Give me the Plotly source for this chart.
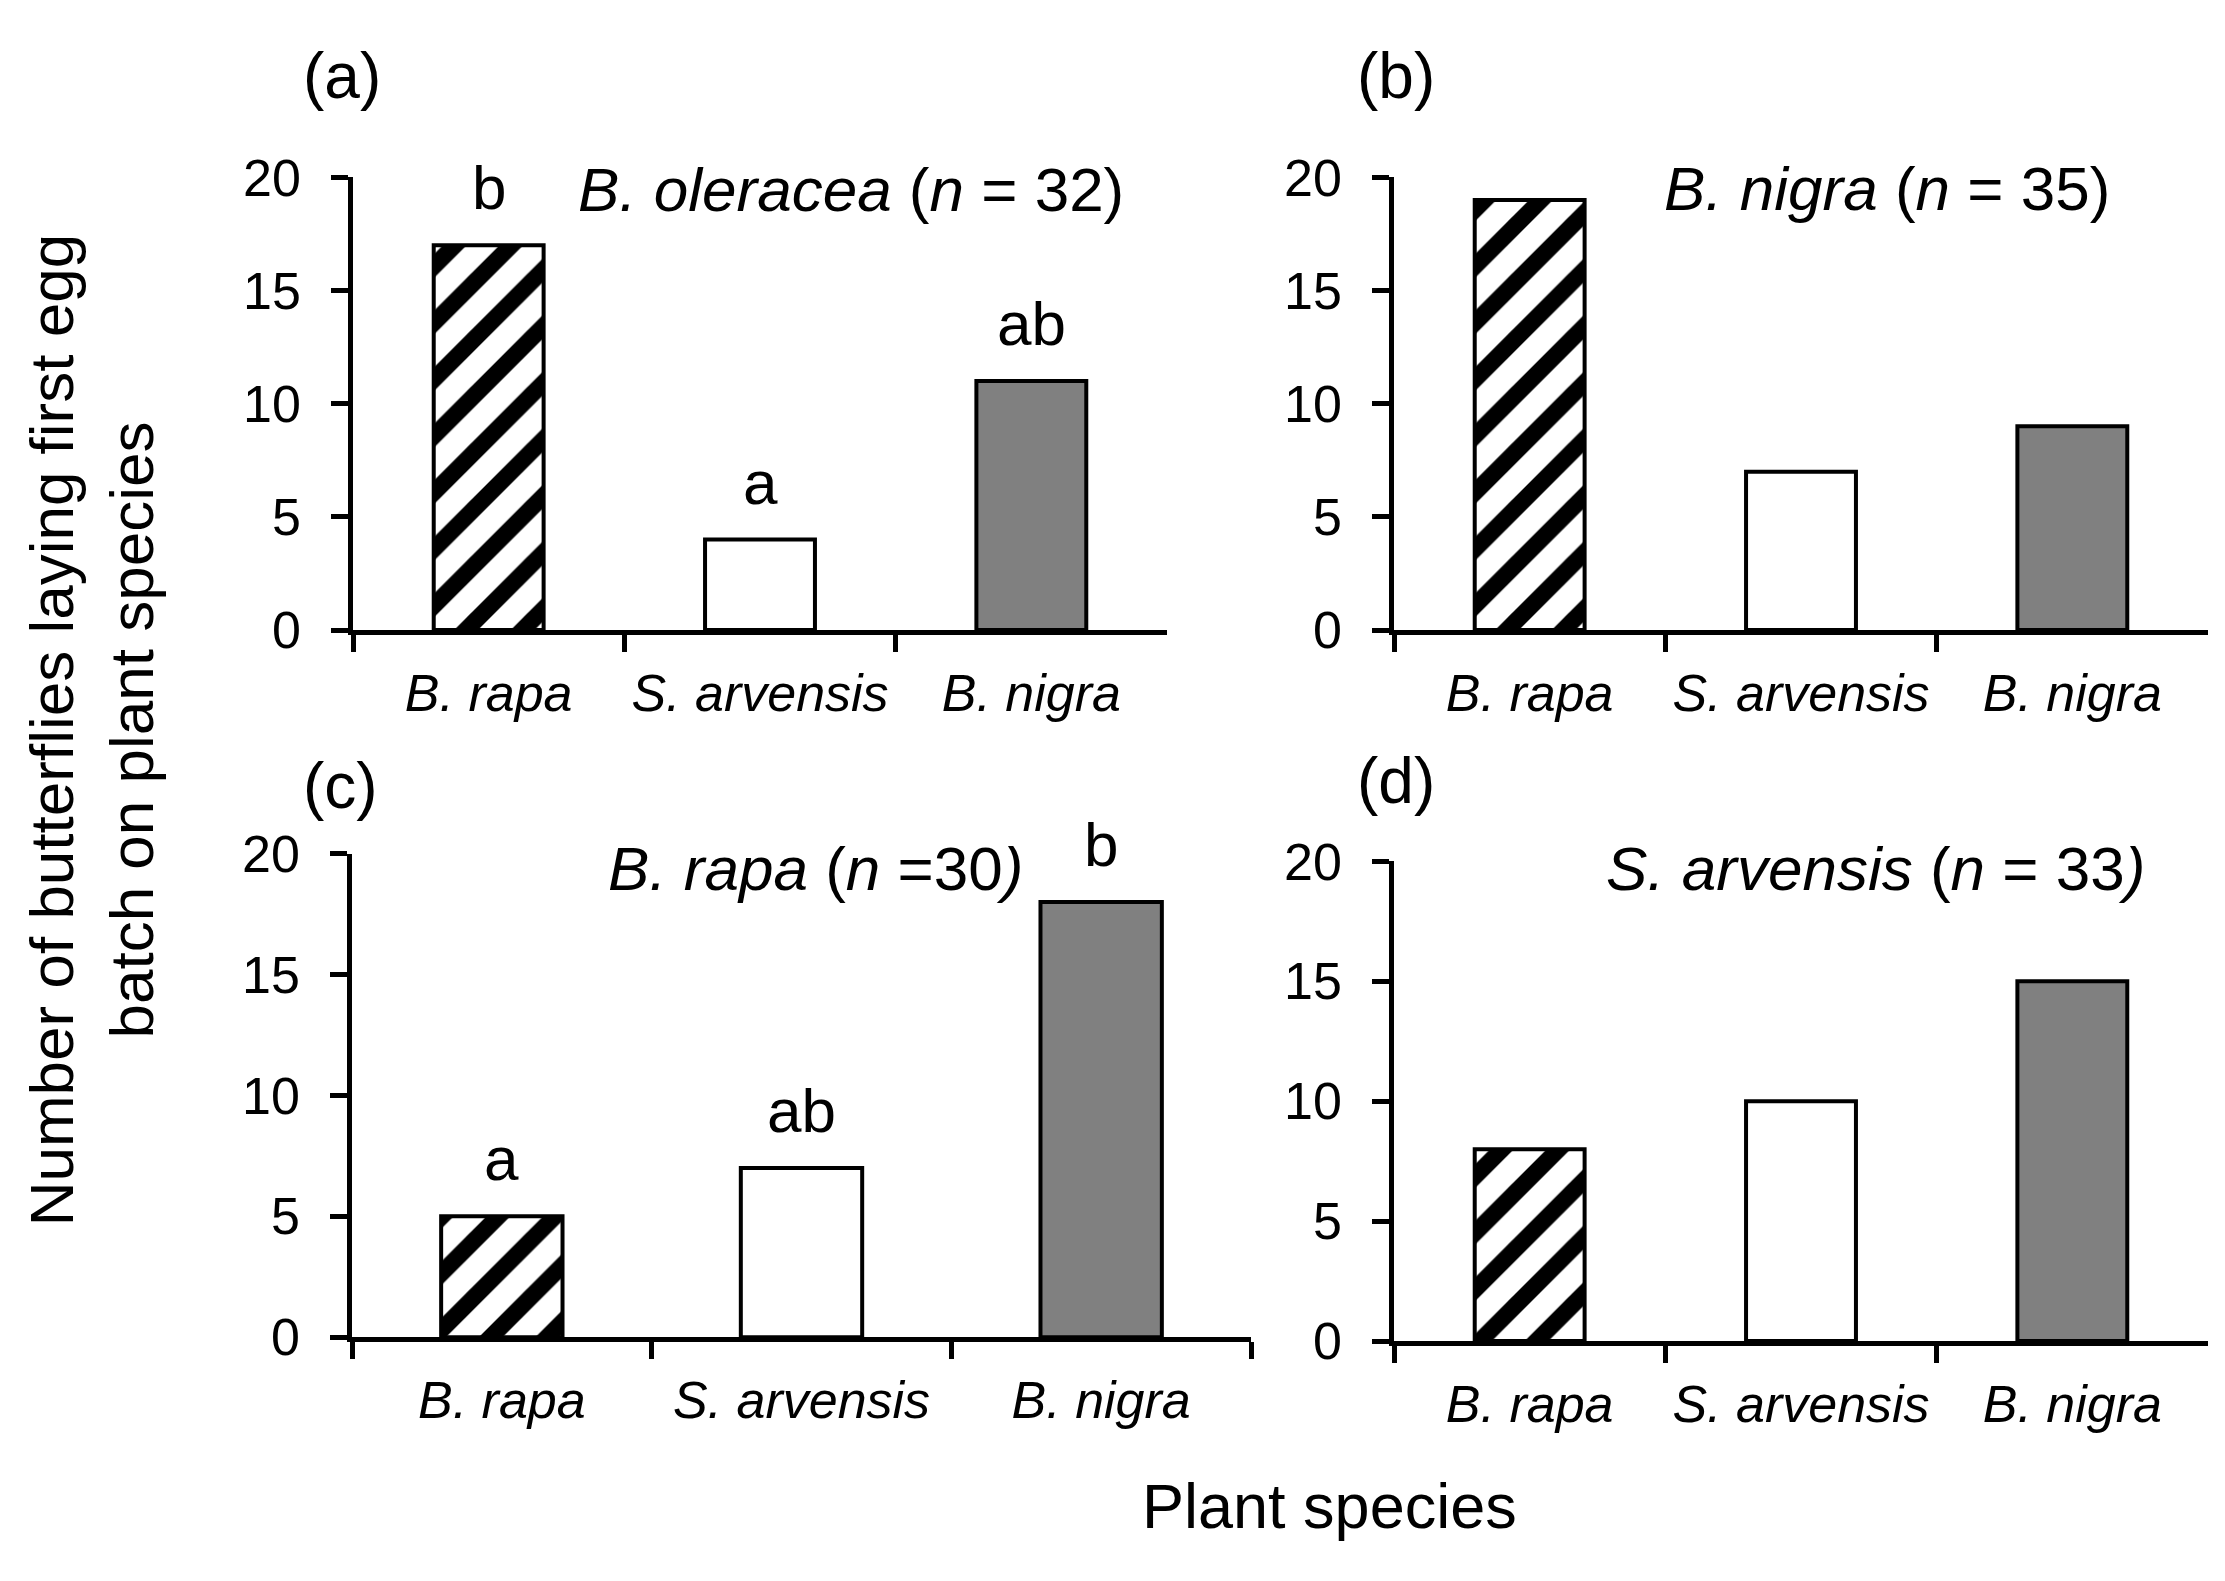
import plotly.graph_objects as go

W, H = 2225, 1581

species = ["B. rapa", "S. arvensis", "B. nigra"]

counts_a = [17, 4, 11]
counts_b = [19, 7, 9]
counts_c = [5, 7, 18]
counts_d = [8, 10, 15]

letters_a = ["b", "a", "ab"]
letters_c = ["a", "ab", "b"]

panel_labels = ["(a)", "(b)", "(c)", "(d)"]
panel_titles = [
    "<i>B. oleracea</i> (<i>n</i> = 32)",
    "<i>B. nigra</i> (<i>n</i> = 35)",
    "<i>B. rapa</i> (<i>n</i> =30<i>)</i>",
    "<i>S. arvensis</i> (<i>n</i> = 33<i>)</i>",
]
y_title = "Number of butterflies laying first egg<br>batch on plant species"
x_title = "Plant species"

FONT = "Liberation Sans, Arial, sans-serif"

bar_colors = ["white", "white", "#808080"]
bar_shapes = ["/", "", ""]

# panel geometry in pixels: (x0, x1, ytop, ybottom)
geo = [
    (353, 1167, 154, 624),
    (1394, 2208, 154, 624),
    (352, 1251, 856, 1358),
    (1394, 2208, 864, 1362),
]

fig = go.Figure()
all_counts = [counts_a, counts_b, counts_c, counts_d]
for i, cnt in enumerate(all_counts):
    sfx = "" if i == 0 else str(i + 1)
    for j, sp in enumerate(species):
        marker = dict(color=bar_colors[j], line=dict(color="black", width=4))
        if bar_shapes[j]:
            marker["pattern"] = dict(shape=bar_shapes[j], fgcolor="black",
                                     bgcolor="white", size=40, solidity=0.42,
                                     fillmode="replace")
        fig.add_trace(go.Bar(
            x=[sp], y=[cnt[j]],
            xaxis="x" + sfx, yaxis="y" + sfx,
            width=0.405, marker=marker,
            showlegend=False, hoverinfo="skip",
        ))

layout = dict(
    width=W, height=H,
    margin=dict(l=0, r=0, t=0, b=0),
    paper_bgcolor="white", plot_bgcolor="white",
    font=dict(family=FONT, color="black"),
    showlegend=False,
    barmode="overlay",
)

for i, (x0, x1, yt, yb) in enumerate(geo):
    sfx = "" if i == 0 else str(i + 1)
    layout["xaxis" + sfx] = dict(
        domain=[x0 / W, x1 / W], anchor="y" + sfx,
        categoryorder="array", categoryarray=species,
        showline=True, linecolor="black", linewidth=4.5,
        ticks="outside", ticklen=17, tickwidth=4.5, tickcolor="black",
        tickson="boundaries", showgrid=False, zeroline=False,
        tickfont=dict(family=FONT, size=52, style="italic", color="black"),
        ticklabelstandoff=14,
        range=[-0.5, 2.5], fixedrange=True,
    )
    layout["yaxis" + sfx] = dict(
        domain=[1 - yb / H, 1 - yt / H], anchor="x" + sfx,
        range=[0, 20], dtick=5, tick0=0,
        showline=True, linecolor="black", linewidth=4.5,
        ticks="outside", ticklen=17, tickwidth=4.5, tickcolor="black",
        showgrid=False, zeroline=False,
        tickfont=dict(family=FONT, size=52, color="black"),
        ticklabelstandoff=20, fixedrange=True,
    )

annotations = []


def px_ann(text, x, y, size, **kw):
    d = dict(text=text, x=x / W, y=1 - y / H, xref="paper", yref="paper",
             showarrow=False, font=dict(family=FONT, size=size, color="black"),
             xanchor="center", yanchor="middle")
    d.update(kw)
    return d


# panel labels
label_pos = [(342, 49), (1396, 49), (340, 786), (1396, 781)]
for lab, (x, y) in zip(panel_labels, label_pos):
    annotations.append(px_ann(lab, x, y, 64))

# panel titles
title_pos = [(851, 167), (1887, 166), (815, 871), (1876, 871)]
for t, (x, y) in zip(panel_titles, title_pos):
    annotations.append(px_ann(t, x, y, 62))

# significance letters
for sfx, cnt, lets in [("", counts_a, letters_a), ("3", counts_c, letters_c)]:
    for sp, v, l in zip(species, cnt, lets):
        annotations.append(dict(
            text=l, x=sp, y=v, xref="x" + sfx, yref="y" + sfx,
            showarrow=False, yanchor="bottom", xanchor="center", yshift=21,
            font=dict(family=FONT, size=62, color="black"),
        ))

# axis titles
annotations.append(px_ann(y_title, 92, 728, 62, textangle=-90))
annotations.append(px_ann(x_title, 1329, 1533, 63))

layout["annotations"] = annotations
fig.update_layout(**layout)

fig.write_html(
    "out.html",
    config={"displayModeBar": False},
    post_script="document.body.style.margin='0';document.body.style.overflow='hidden';",
)
